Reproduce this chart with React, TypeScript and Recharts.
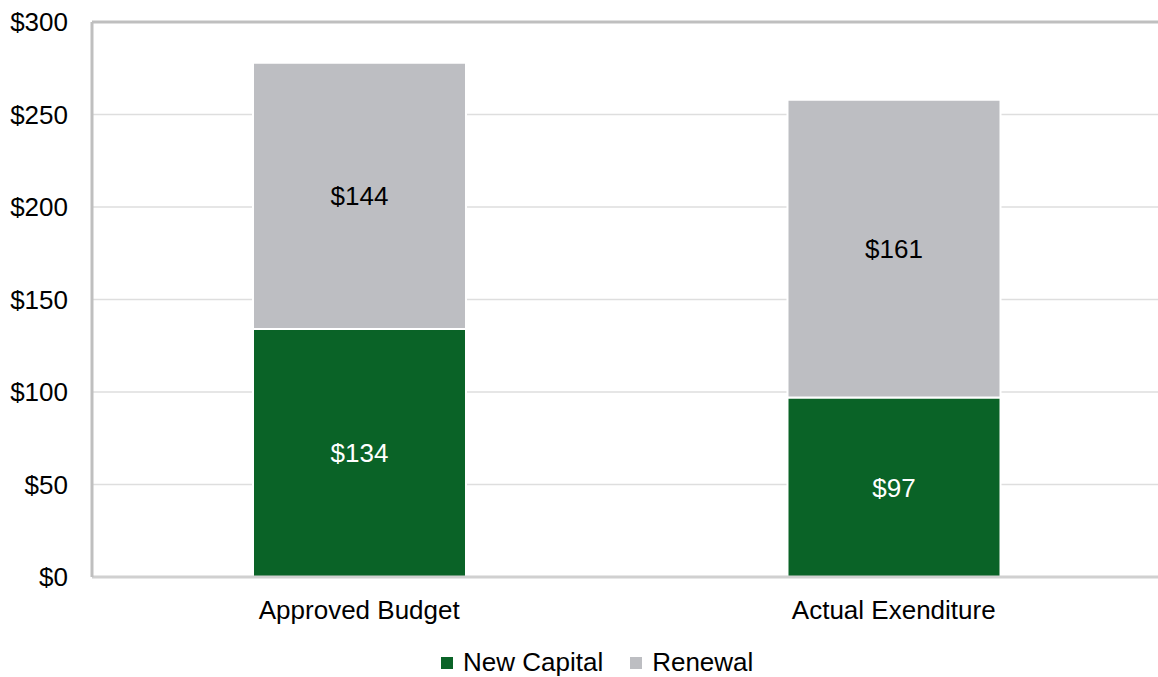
import React from 'react';
import { BarChart, Bar, XAxis, YAxis, CartesianGrid, Legend, LabelList, ReferenceLine } from 'recharts';

const categories = ['Approved Budget', 'Actual Exenditure'];
const newCapital = [134, 97];
const renewal = [144, 161];
const yTicks = [0, 50, 100, 150, 200, 250, 300];

const GREEN = '#0a6327';
const GRAY = '#bdbec2';
const FONT = '"Liberation Sans", Arial, sans-serif';

const data = categories.map((name, i) => ({
  name,
  newCapital: newCapital[i],
  renewal: renewal[i],
}));

const money = (v: any) => `$${v}`;

function ChartLegend() {
  const items = [
    { label: 'New Capital', color: GREEN },
    { label: 'Renewal', color: GRAY },
  ];
  return (
    <div
      style={{
        width: 1163,
        height: 40,
        boxSizing: 'border-box',
        paddingTop: 11,
        display: 'flex',
        alignItems: 'center',
        paddingLeft: 441,
        fontFamily: FONT,
        fontSize: 26,
        color: '#000',
      }}
    >
      {items.map((it, i) => (
        <div key={it.label} style={{ display: 'flex', alignItems: 'center', marginRight: i === 0 ? 27 : 0 }}>
          <span style={{ width: 12, height: 12, background: it.color, display: 'inline-block', marginRight: 10 }} />
          <span>{it.label}</span>
        </div>
      ))}
    </div>
  );
}

export default function App() {
  return (
    <div style={{ position: 'absolute', left: 0, top: 0, width: 1158, height: 677, overflow: 'hidden', background: '#fff' }}>
      <BarChart
        width={1163}
        height={677}
        data={data}
        margin={{ top: 22, right: 2, left: 0, bottom: 0 }}
        style={{ fontFamily: FONT }}
      >
        <CartesianGrid vertical={false} stroke="#dedede" strokeWidth={1.5} />
        <XAxis
          dataKey="name"
          height={60}
          tickLine={false}
          tickSize={0}
          tickMargin={24}
          axisLine={{ stroke: '#d0d0d0', strokeWidth: 3 }}
          tick={{ fill: '#000', fontSize: 26, fontFamily: FONT }}
        />
        <YAxis
          width={92}
          domain={[0, 300]}
          ticks={yTicks}
          tickFormatter={money}
          tickLine={false}
          tickSize={0}
          tickMargin={24}
          axisLine={{ stroke: '#bfbfbf', strokeWidth: 3 }}
          tick={{ fill: '#000', fontSize: 26, fontFamily: FONT }}
        />
        <ReferenceLine y={300} stroke="#bfbfbf" strokeWidth={3} />
        <Legend verticalAlign="bottom" wrapperStyle={{ left: 0, bottom: 0, width: 1163 }} content={() => <ChartLegend />} />
        <Bar dataKey="newCapital" stackId="a" fill={GREEN} stroke="#fff" strokeWidth={2} barSize={213} isAnimationActive={false}>
          <LabelList dataKey="newCapital" position="center" formatter={money} fill="#fff" fontSize={26} fontFamily={FONT} />
        </Bar>
        <Bar dataKey="renewal" stackId="a" fill={GRAY} stroke="#fff" strokeWidth={2} barSize={213} isAnimationActive={false}>
          <LabelList dataKey="renewal" position="center" formatter={money} fill="#000" fontSize={26} fontFamily={FONT} />
        </Bar>
      </BarChart>
    </div>
  );
}
